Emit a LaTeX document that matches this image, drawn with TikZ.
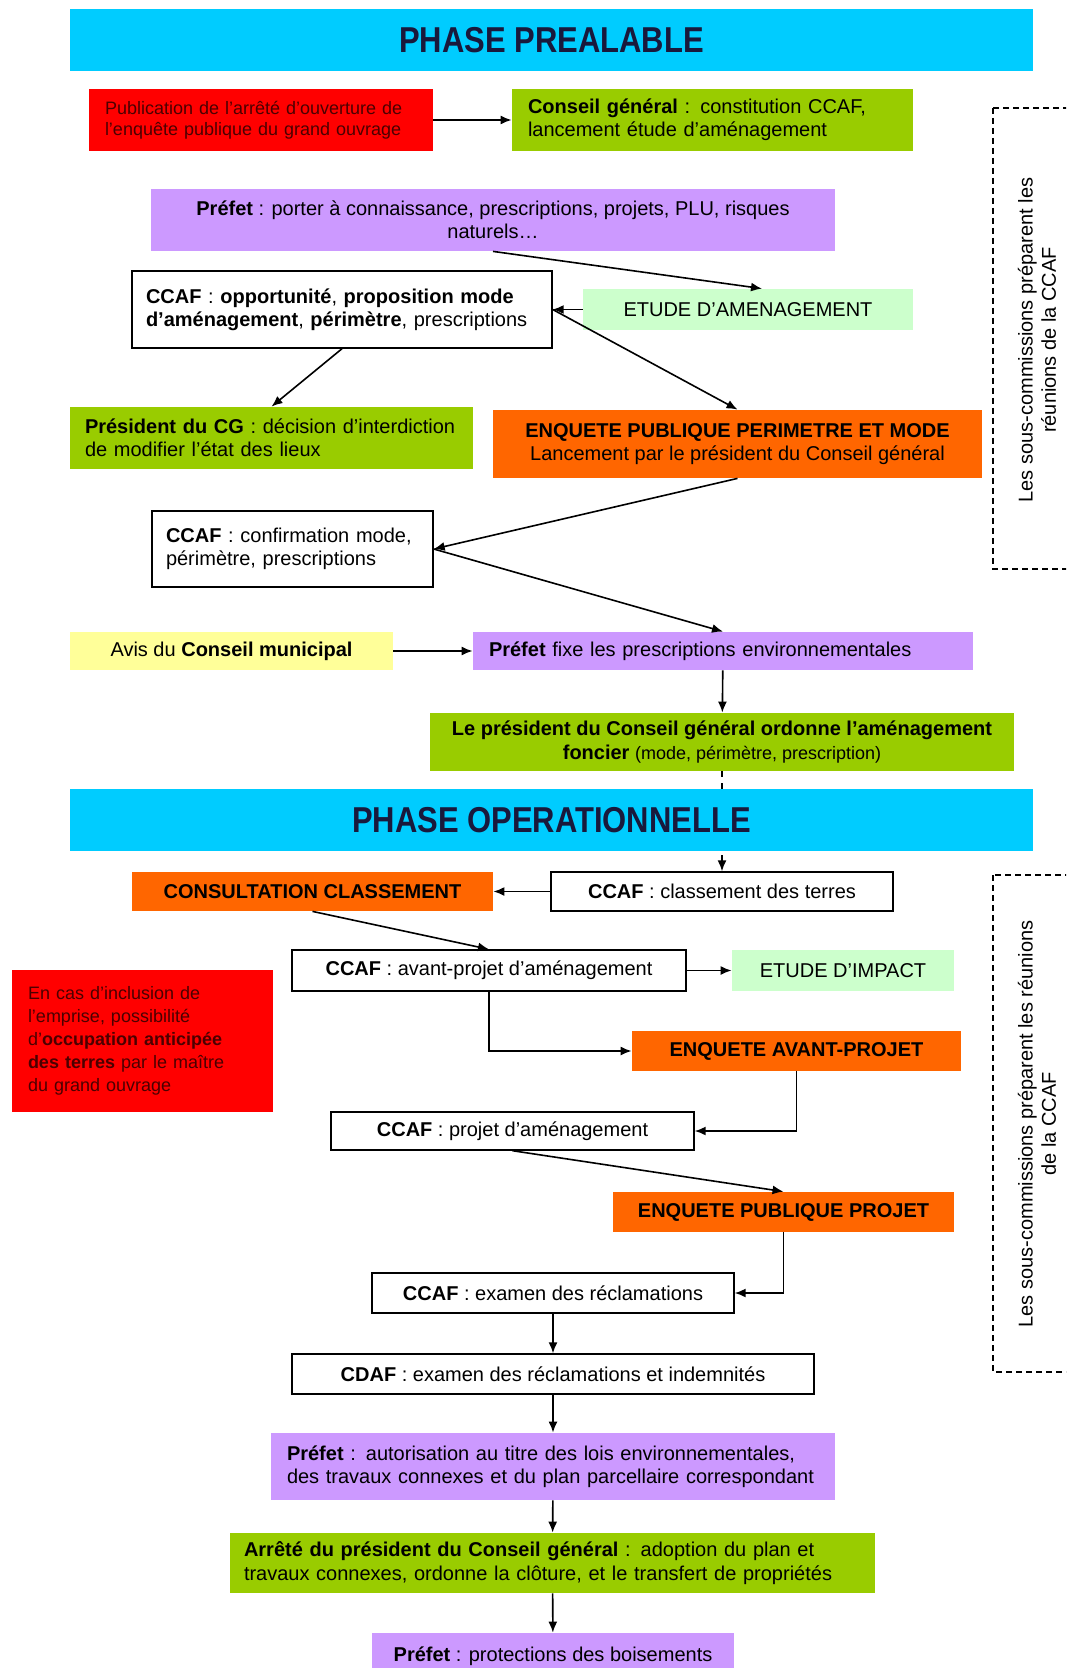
\documentclass[tikz,border=0pt]{standalone}
\usepackage{fontspec}
\usetikzlibrary{arrows.meta}
\setmainfont{Liberation Sans}
\newfontfamily\bannerfont[FakeStretch=0.86]{Liberation Sans}
\newcommand\bodyfont{\fontsize{10}{11.7}\selectfont}
\definecolor{bannercyan}{RGB}{0,204,255}
\definecolor{bannerink}{RGB}{25,25,60}
\definecolor{redbox}{RGB}{255,0,0}
\definecolor{redink}{RGB}{75,0,0}
\definecolor{cggreen}{RGB}{153,204,0}
\definecolor{prefpurple}{RGB}{204,153,255}
\definecolor{etudegreen}{RGB}{204,255,204}
\definecolor{enqorange}{RGB}{255,102,0}
\definecolor{avisyellow}{RGB}{255,255,153}

\begin{document}
\begin{tikzpicture}[>={Latex[length=5.5pt,width=4.5pt]},x=0.5pt,y=-0.5pt,
  fillbox/.style={fill=#1,inner sep=0pt,align=center,font=\bodyfont,text=black},
  linebox/.style={draw=black,line width=0.7pt,fill=white,inner sep=0pt,align=center,font=\bodyfont,text=black},
  banner/.style={fill=bannercyan,minimum width=481.5pt,minimum height=31.25pt,inner sep=0pt,text=bannerink,font=\bannerfont\bfseries\fontsize{18}{20}\selectfont},
  arr/.style={->,line width=0.8pt},
  sous/.style={draw,dash pattern=on 3pt off 2pt,line width=0.6pt}]

\path[use as bounding box,clip](0,0) rectangle (1066,1668);

% phase prealable
\node[banner](phaseA) at (551.5,40){PHASE PREALABLE};

\node[fillbox=redbox,text=redink,font=\fontsize{9}{10.5}\selectfont,text width=156pt,inner xsep=8pt,align=left,minimum height=31pt](pub) at (261,120){Publication de l’arrêté d’ouverture de\\l’enquête publique du grand ouvrage};
\node[fillbox=cggreen,text width=184.5pt,inner xsep=8pt,align=left,minimum height=31pt](cgA) at (712.5,120){\textbf{Conseil général} : constitution CCAF,\\lancement étude d’aménagement};

\node[fillbox=prefpurple,minimum width=342pt,minimum height=31pt](prefA) at (493,220){\textbf{Préfet} : porter à connaissance, prescriptions, projets, PLU, risques\\naturels…};

\node[linebox,text width=196pt,inner xsep=7pt,align=left,minimum height=38.5pt](ccafA) at (342,309.5){\textbf{CCAF} : \textbf{opportunité}, \textbf{proposition mode}\\\textbf{d’aménagement}, \textbf{périmètre}, prescriptions\\[-5pt]};
\node[fillbox=etudegreen,minimum width=165pt,minimum height=20.5pt](etudeA) at (748,309.5){ETUDE D’AMENAGEMENT};

\node[fillbox=cggreen,text width=186.5pt,inner xsep=7.5pt,align=left,minimum height=31pt](presCG) at (271.5,438){\textbf{Président du CG} : décision d’interdiction\\de modifier l’état des lieux};
\node[fillbox=enqorange,minimum width=244.5pt,minimum height=34pt](enqPM) at (737.5,444){\textbf{ENQUETE PUBLIQUE PERIMETRE ET MODE}\\Lancement par le président du Conseil général};

\node[linebox,text width=126.5pt,inner xsep=7pt,align=left,minimum height=38pt](ccafB) at (292.5,549){\textbf{CCAF} : confirmation mode,\\périmètre, prescriptions};

\node[fillbox=avisyellow,minimum width=161.5pt,minimum height=19pt](avis) at (231.5,651){Avis du \textbf{Conseil municipal}};
\node[fillbox=prefpurple,text width=234pt,inner xsep=8pt,align=left,minimum height=19pt](prefB) at (723,651){\textbf{Préfet} fixe les prescriptions environnementales};

\node[fillbox=cggreen,minimum width=292pt,minimum height=29pt](presOrd) at (722,742){\textbf{Le président du Conseil général ordonne l’aménagement}\\\textbf{foncier} {\fontsize{9}{10}\selectfont(mode, périmètre, prescription)}};

% phase operationnelle
\node[linebox,minimum width=171pt,minimum height=19.5pt](classe) at (722,891.5){\textbf{CCAF} : classement des terres};
\node[fillbox=enqorange,minimum width=180.5pt,minimum height=19.5pt](consult) at (312.5,891.5){\textbf{CONSULTATION CLASSEMENT}};

\node[linebox,minimum width=197pt,minimum height=20.5pt](avantP) at (489,970.5){\textbf{CCAF} : avant-projet d’aménagement};
\node[fillbox=etudegreen,minimum width=111pt,minimum height=20.5pt](etudeI) at (843,970.5){ETUDE D’IMPACT};

\node[fillbox=redbox,text=redink,font=\fontsize{9}{11.5}\selectfont,text width=114.5pt,inner xsep=8pt,align=left,minimum height=71pt](emprise) at (142.5,1041){En cas d’inclusion de\\l’emprise, possibilité\\d’\textbf{occupation anticipée}\\\textbf{des terres} par le maître\\du grand ouvrage};

\node[fillbox=enqorange,minimum width=164.5pt,minimum height=20pt](enqAv) at (796.5,1051){\textbf{ENQUETE AVANT-PROJET}};
\node[linebox,minimum width=181.5pt,minimum height=19pt](projet) at (512.5,1131){\textbf{CCAF} : projet d’aménagement};
\node[fillbox=enqorange,minimum width=170.5pt,minimum height=20pt](enqPP) at (783.5,1212){\textbf{ENQUETE PUBLIQUE PROJET}};
\node[linebox,minimum width=181pt,minimum height=20pt](examen) at (553,1293){\textbf{CCAF} : examen des réclamations};
\node[linebox,minimum width=261pt,minimum height=20pt](cdaf) at (553,1374){\textbf{CDAF} : examen des réclamations et indemnités};

\node[fillbox=prefpurple,text width=266pt,inner xsep=8pt,align=left,minimum height=33.5pt](prefC) at (553,1466.5){\textbf{Préfet} : autorisation au titre des lois environnementales,\\des travaux connexes et du plan parcellaire correspondant};
\node[fillbox=cggreen,text width=308.5pt,inner xsep=7pt,align=left,minimum height=30pt](arrete) at (552.5,1563){\textbf{Arrêté du président du Conseil général} : adoption du plan et\\travaux connexes, ordonne la clôture, et le transfert de propriétés};
\node[fillbox=prefpurple,minimum width=181pt,minimum height=23.5pt](prefD) at (553,1656.5){\textbf{Préfet} : protections des boisements};

% sous-commissions
\draw[sous](993,108) rectangle (1100,569);
\node[rotate=90,align=center,font=\bodyfont,inner sep=0pt](sousA) at (1037,340){Les sous-commissions préparent les\\réunions de la CCAF};
\draw[sous](993,875) rectangle (1100,1372);
\node[rotate=90,align=center,font=\bodyfont,inner sep=0pt](sousB) at (1037,1124){Les sous-commissions préparent les réunions\\de la CCAF};

% connecteurs
\draw[arr](pub)--(cgA);
\draw[arr](prefA.south)--([xshift=7pt]etudeA.north);
\draw[arr](etudeA)--(ccafA);
\draw[arr](ccafA.east)--(enqPM.north);
\draw[arr](ccafA.south)--(presCG.north);
\draw[arr](enqPM.south)--(ccafB.east);
\draw[arr](ccafB.east)--(prefB.north);
\draw[arr](avis)--(prefB);
\draw[arr](prefB)--(presOrd);
\draw[arr,dash pattern=on 3pt off 3pt](presOrd)--(classe);

\node[banner](phaseB) at (551.5,820){PHASE OPERATIONNELLE};

\draw[arr](classe)--(consult);
\draw[arr](consult.south)--(avantP.north);
\draw[arr](avantP)--(etudeI);
\draw[arr](avantP.south)|-(enqAv.west);
\draw[arr](enqAv.south)|-(projet.east);
\draw[arr](projet.south)--(enqPP.north);
\draw[arr](enqPP.south)|-(examen.east);
\draw[arr](examen)--(cdaf);
\draw[arr](cdaf)--(prefC);
\draw[arr](prefC)--(arrete);
\draw[arr](arrete)--(prefD);

\end{tikzpicture}
\end{document}
